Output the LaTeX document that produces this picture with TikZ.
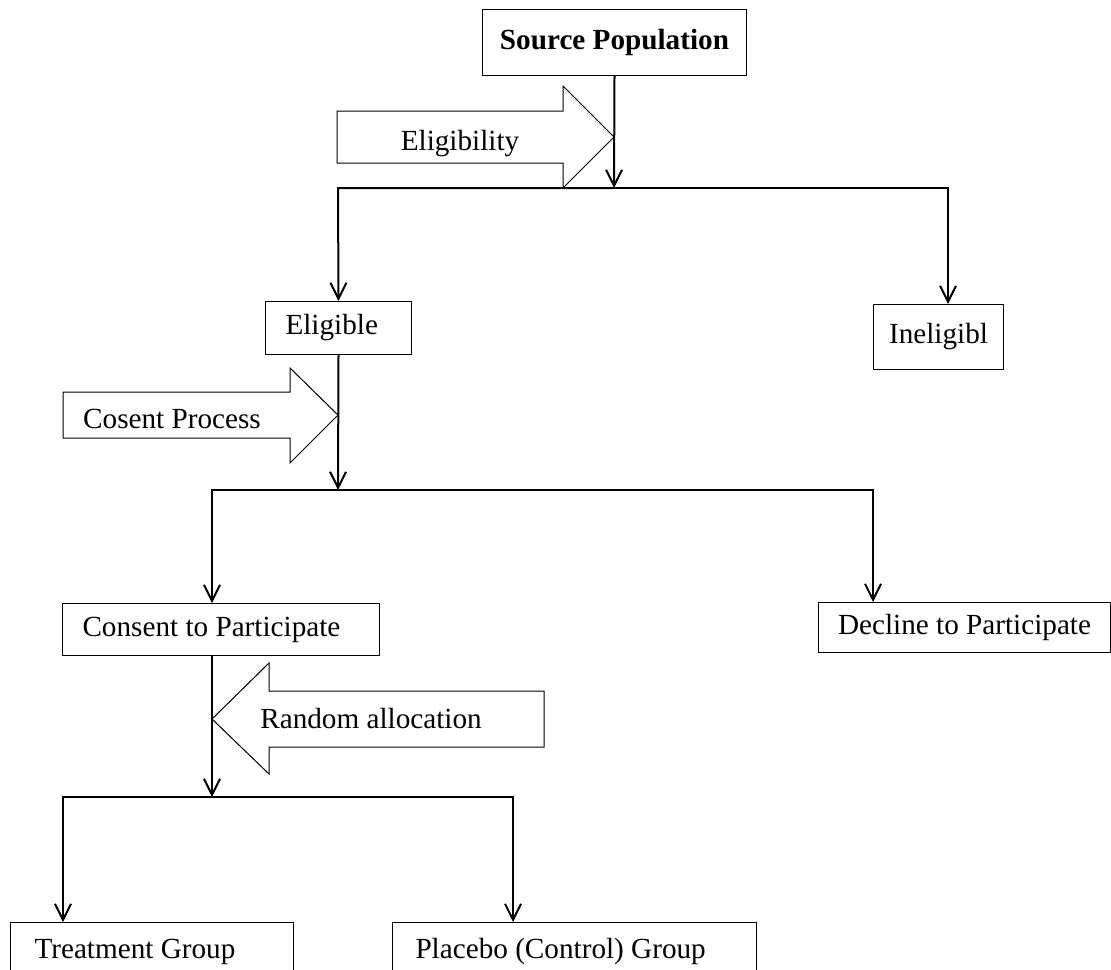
\documentclass[tikz,border=0pt]{standalone}
\usepackage{fontspec}
\setmainfont{Liberation Serif}
\usetikzlibrary{arrows.meta}

\begin{document}
\begin{tikzpicture}[x=0.5pt,y=-0.5pt,
  font=\fontsize{14.6}{17}\selectfont,
  box/.style={draw,line width=0.5pt,anchor=north west,inner ysep=1pt},
  lbox/.style={box,align=flush left,inner xsep=#1},
  flow/.style={line width=1pt},
  arr/.style={flow,-{Straight Barb[length=8pt,width=8pt]}},
  bigarrow/.style={draw,line width=0.5pt}]
\useasboundingbox (0,0) rectangle (1111,969);
% boxes
\node[box,minimum width=132pt,minimum height=33pt] (src) at (482,9) {\textbf{Source Population}};
\node[lbox=10pt,text width=53pt,minimum height=26.5pt] (elig) at (265,301) {Eligible};
\node[box,minimum width=65pt,minimum height=32.5pt] (inel) at (873,304) {Ineligibl};
\node[lbox=10pt,text width=138.5pt,minimum height=26pt] (consent) at (62,603) {Consent to Participate};
\node[box,minimum width=146pt,minimum height=25pt] (decline) at (818,602) {Decline to Participate};
\node[lbox=12pt,text width=117.5pt,minimum height=29pt] (treat) at (10,922) {Treatment Group};
\node[lbox=11.5pt,text width=159pt,minimum height=29pt] (placebo) at (392,922) {Placebo (Control) Group};
% block arrows
\draw[bigarrow] (337,111) -- (563,111) -- (563,86) -- (614,137) -- (563,188) -- (563,163) -- (337,163) -- cycle;
\node[anchor=base] (eligtxt) at (460,150) {Eligibility};
\draw[bigarrow] (63,392) -- (290,392) -- (290,368) -- (338,415) -- (290,463) -- (290,438) -- (63,438) -- cycle;
\node[anchor=base] (cosenttxt) at (172,428) {Cosent Process};
\draw[bigarrow] (544,691) -- (269,691) -- (269,663) -- (212,719) -- (269,774) -- (269,747) -- (544,747) -- cycle;
\node[anchor=base] (randtxt) at (371,728) {Random allocation};
% branch points
\coordinate (j1) at (614,188);
\coordinate (l1) at (338,188);
\coordinate (r1) at (948,188);
\coordinate (j2) at (338,490);
\coordinate (l2) at (212,490);
\coordinate (r2) at (873,490);
\coordinate (j3) at (212,797);
\coordinate (l3) at (63,797);
\coordinate (r3) at (513,797);
% connectors
\draw[arr] (src.south) -- (j1);
\draw[arr] (j1) -- (l1) -- (elig.north);
\draw[arr] (j1) -- (r1) -- (inel.north -| r1);
\draw[arr] (elig.south) -- (j2);
\draw[arr] (j2) -- (l2) -- (consent.north -| l2);
\draw[arr] (j2) -- (r2) -- (decline.north -| r2);
\draw[arr] (consent.south -| j3) -- (j3);
\draw[arr] (j3) -- (l3) -- (treat.north -| l3);
\draw[arr] (j3) -- (r3) -- (placebo.north -| r3);
\end{tikzpicture}
\end{document}
